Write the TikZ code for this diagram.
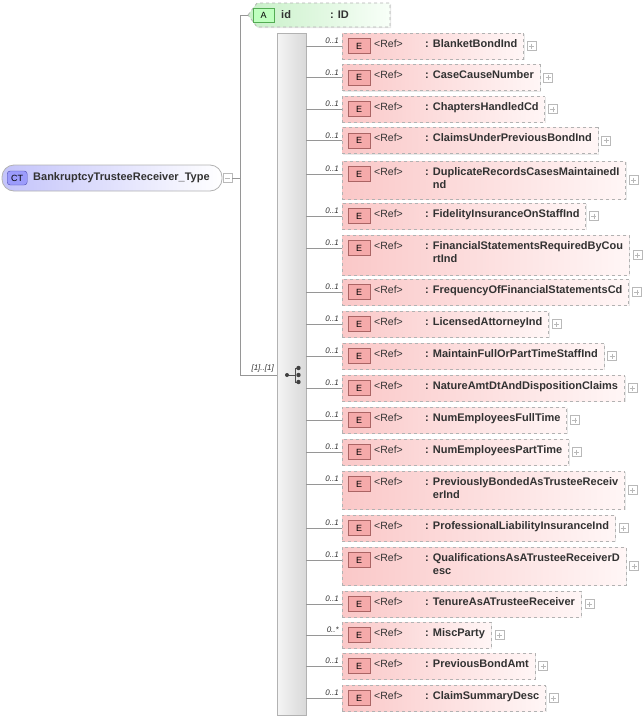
\documentclass[tikz,border=0pt]{standalone}
\usepackage{fontspec}
\setmainfont{Liberation Sans}
\usetikzlibrary{fit,calc,backgrounds,shadows}
\definecolor{pinkL}{RGB}{250,200,200}
\definecolor{pinkR}{RGB}{255,246,246}
\definecolor{iconE}{RGB}{245,170,170}
\definecolor{iconEd}{RGB}{170,100,100}
\definecolor{greenL}{RGB}{200,240,200}
\definecolor{greenR}{RGB}{248,255,248}
\definecolor{blueL}{RGB}{195,195,250}
\definecolor{lineg}{RGB}{150,150,150}
\definecolor{txt}{RGB}{50,50,50}
\tikzset{
 conn/.style={draw=lineg, line width=0.8pt},
 ebox/.style={draw=gray!60, dashed, line width=0.8pt, inner sep=0, left color=pinkL, right color=pinkR,
   drop shadow={shadow xshift=1.2pt, shadow yshift=-1.2pt, fill=gray!30, opacity=0.6}},
 eicon/.style={draw=iconEd, fill=iconE, minimum width=22pt, minimum height=15pt, inner sep=0, font=\fontsize{9}{10}\selectfont},
 nametxt/.style={inner sep=0, align=left, text=txt, font=\fontsize{11}{13}\selectfont\bfseries},
 reftxt/.style={inner sep=0, text=txt, font=\fontsize{10.5}{13}\selectfont},
 mult/.style={inner sep=0, font=\fontsize{8}{9}\selectfont\itshape, text=gray!40!black},
 plusbox/.style={draw=gray!55, fill=white, minimum size=9pt, inner sep=0,
   path picture={\draw[gray!55] ($(path picture bounding box.west)+(2pt,0)$) -- ($(path picture bounding box.east)+(-2pt,0)$);
                 \draw[gray!55] ($(path picture bounding box.north)+(0,-2pt)$) -- ($(path picture bounding box.south)+(0,2pt)$);}},
}
\newcommand\erow[5]{% id, top, height, text, mult
 \node[nametxt, anchor=north west] (#1t) at (425,#2+6) {#4};
 \node[reftxt, anchor=north west] (#1r) at (374,#2+6.6) {<Ref>};
 \begin{pgfonlayer}{background}
 \node[ebox, fit={(342,#2) ($(#1t.east |- 0,#2+#3)+(6,0)$)}] (#1) {};
 \end{pgfonlayer}
 \node[eicon, anchor=west] (#1i) at (348,#2+13) {E};
 \node[plusbox, anchor=west] (#1p) at ($(#1.east)+(3,0)$) {};
 \draw[conn] (seq.east |- 0,#2+13) -- (#1.west |- 0,#2+13);
 \node[mult, anchor=south east] (#1m) at (339,#2+11) {#5};
}
\begin{document}
\begin{tikzpicture}[x=1pt,y=-1pt]
\useasboundingbox (0,0) rectangle (644,720);
% sequence
\node[draw=gray!60, inner sep=0, left color=gray!8, right color=gray!30, fit={(277,33) (306,715)}] (seq) {};
% CT node
\node[draw=gray!60, line width=0.8pt, rounded corners=12pt, inner sep=0, left color=blueL, right color=white,
  fit={(2,165) (222,191)}] (ct) {};
\node[draw=blue!40!gray, fill=blueL!80!blue, rounded corners=3pt, minimum width=20pt, minimum height=14pt, inner sep=0,
  font=\fontsize{9}{10}\selectfont, anchor=west] (cti) at (7,178) {CT};
\node[nametxt, anchor=west] (ctt) at (33,178) {BankruptcyTrusteeReceiver\_Type};
\node[draw=gray!55, fill=white, minimum size=9pt, inner sep=0, anchor=west,
  path picture={\draw[gray!55] ($(path picture bounding box.west)+(2pt,0)$) -- ($(path picture bounding box.east)+(-2pt,0)$);}] (ctm) at (223,178) {};
% attribute
\coordinate (atip) at (248,15);
\path[draw=gray!60, dashed, line width=0.8pt, left color=greenL, right color=greenR,
  drop shadow={shadow xshift=1.2pt, shadow yshift=-1.2pt, fill=gray!30, opacity=0.6}]
  (atip) -- (257,3) -- (390,3) -- (390,27) -- (257,27) -- cycle;
\node[draw=green!35!gray, fill=green!25, minimum width=21pt, minimum height=14pt, inner sep=0, anchor=west,
  font=\fontsize{9}{10}\selectfont] (attr) at (253,15) {A};
\node[nametxt, anchor=west] (attrn) at (281,15) {id};
\node[nametxt, anchor=west] (attrt) at (330,15) {: ID};
% tree connectors
\coordinate (j) at (240,178);
\draw[conn] (ctm.east) -- (j) |- (atip);
\draw[conn] (j) |- (seq.west |- 0,375);
\node[mult, anchor=south east] (card) at (274,372) {[1]..[1]};
% sequence symbol
\coordinate (s0) at (287,375);
\draw[black!70, line width=0.9pt] (s0) -- (295,375) (295,368) -- (295,382) (295,368) -- (298,368) (295,382) -- (298,382);
\fill[black!75] (s0) circle (2pt) (298.5,368) circle (2.2pt) (298.5,375) circle (2.2pt) (298.5,382) circle (2.2pt);
% elements
\erow{e1}{33}{26}{: BlanketBondInd}{0..1}
\erow{e2}{64.5}{26}{: CaseCauseNumber}{0..1}
\erow{e3}{96}{26}{: ChaptersHandledCd}{0..1}
\erow{e4}{127.5}{26}{: ClaimsUnderPreviousBondInd}{0..1}
\erow{e5}{161}{38}{: DuplicateRecordsCasesMaintainedI\\\phantom{: }nd}{0..1}
\erow{e6}{203}{26}{: FidelityInsuranceOnStaffInd}{0..1}
\erow{e7}{235}{40}{: FinancialStatementsRequiredByCou\\\phantom{: }rtInd}{0..1}
\erow{e8}{279}{26}{: FrequencyOfFinancialStatementsCd}{0..1}
\erow{e9}{311}{26}{: LicensedAttorneyInd}{0..1}
\erow{e10}{343}{26}{: MaintainFullOrPartTimeStaffInd}{0..1}
\erow{e11}{375}{26}{: NatureAmtDtAndDispositionClaims}{0..1}
\erow{e12}{407}{26}{: NumEmployeesFullTime}{0..1}
\erow{e13}{439}{26}{: NumEmployeesPartTime}{0..1}
\erow{e14}{471}{38}{: PreviouslyBondedAsTrusteeReceiv\\\phantom{: }erInd}{0..1}
\erow{e15}{515}{26}{: ProfessionalLiabilityInsuranceInd}{0..1}
\erow{e16}{547}{38}{: QualificationsAsATrusteeReceiverD\\\phantom{: }esc}{0..1}
\erow{e17}{591}{26}{: TenureAsATrusteeReceiver}{0..1}
\erow{e18}{622}{26}{: MiscParty}{0..*}
\erow{e19}{653}{26}{: PreviousBondAmt}{0..1}
\erow{e20}{685}{26}{: ClaimSummaryDesc}{0..1}
\end{tikzpicture}
\end{document}
